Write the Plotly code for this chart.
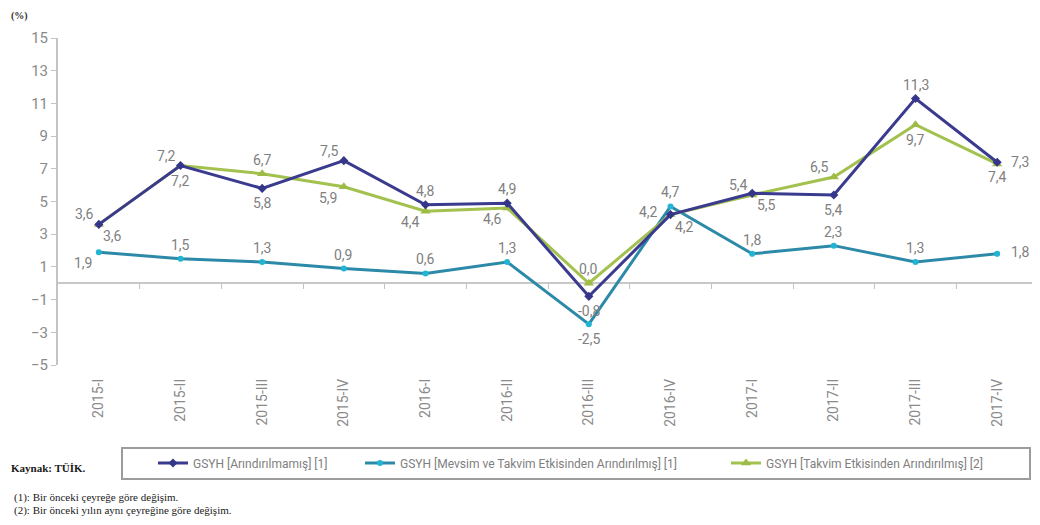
import plotly.graph_objects as go

categories = ["2015-I", "2015-II", "2015-III", "2015-IV", "2016-I", "2016-II",
              "2016-III", "2016-IV", "2017-I", "2017-II", "2017-III", "2017-IV"]
unadjusted = [3.6, 7.2, 5.8, 7.5, 4.8, 4.9, -0.8, 4.2, 5.5, 5.4, 11.3, 7.4]
seasonal_adj = [1.9, 1.5, 1.3, 0.9, 0.6, 1.3, -2.5, 4.7, 1.8, 2.3, 1.3, 1.8]
calendar_adj = [3.6, 7.2, 6.7, 5.9, 4.4, 4.6, 0.0, 4.2, 5.4, 6.5, 9.7, 7.3]

names = ["GSYH [Arındırılmamış] [1]",
         "GSYH [Mevsim ve Takvim Etkisinden Arındırılmış] [1]",
         "GSYH [Takvim Etkisinden Arındırılmış] [2]"]
yticks = [-5, -3, -1, 1, 3, 5, 7, 9, 11, 13, 15]

# label placement codes (style only)
pos_unadj = ["br", "b", "b", "tl", "t", "t", "b", "br", "br", "b", "t", "b"]
pos_seas = ["bl", "t", "t", "t", "t", "t", "b", "t", "t", "t", "t", "r"]
pos_cal = ["tl", "tl", "t", "bl", "bl", "bl", "t", "l", "tl", "tl", "b", "r"]
SHIFT = {"t": (0, 14), "b": (0, -15), "tl": (-14, 10), "bl": (-15, -11),
         "br": (14, -12), "l": (-22, 3), "r": (23, 2)}

OFF = 8  # page body margin
W, H = 1040 - OFF, 525 - OFF
PL, PR, PT, PB = 58 - OFF, 1038 - OFF, 38 - OFF, 365 - OFF


def px(x):
    return (x - OFF - PL) / (PR - PL)


def py(y):
    return (PB - (y - OFF)) / (PB - PT)


def fmt(v):
    return f"{v:.1f}".replace(".", ",")


label_font = dict(family="Roboto", size=14, color="#7f7f7f")

fig = go.Figure()
fig.add_trace(go.Scatter(
    x=categories, y=seasonal_adj, name=names[1], mode="lines+markers",
    line=dict(color="#2c8aa8", width=3), marker=dict(symbol="circle", size=6, color="#22b5d3"),
    legend="legend2"))
fig.add_trace(go.Scatter(
    x=categories, y=calendar_adj, name=names[2], mode="lines+markers",
    line=dict(color="#a3c14f", width=3), marker=dict(symbol="triangle-up", size=9, color="#9dbb45"),
    legend="legend3"))
fig.add_trace(go.Scatter(
    x=categories, y=unadjusted, name=names[0], mode="lines+markers",
    line=dict(color="#3a3a8e", width=3), marker=dict(symbol="diamond", size=7, color="#35358a"),
    legend="legend"))
# helper axis for the boundary tick marks on the zero line
fig.add_trace(go.Scatter(x=[], y=[], xaxis="x2", showlegend=False, hoverinfo="skip"))

annotations = []
for vals, codes in ((unadjusted, pos_unadj), (seasonal_adj, pos_seas), (calendar_adj, pos_cal)):
    for c, v, code in zip(categories, vals, codes):
        dx, dy = SHIFT[code]
        annotations.append(dict(x=c, y=v, xref="x", yref="y", text=fmt(v), showarrow=False,
                                xshift=dx, yshift=dy, font=label_font,
                                xanchor="center", yanchor="middle"))

annotations += [
    dict(text="<b>(%)</b>", xref="paper", yref="paper", x=px(9), y=py(16),
         xanchor="left", yanchor="middle", showarrow=False,
         font=dict(family="Liberation Serif", size=10, color="#333333")),
    dict(text="<b>Kaynak: TÜİK.</b>", xref="paper", yref="paper", x=px(9), y=py(468),
         xanchor="left", yanchor="middle", showarrow=False,
         font=dict(family="Liberation Serif", size=11, color="#1a1a1a")),
    dict(text="(1): Bir önceki çeyreğe göre değişim.", xref="paper", yref="paper",
         x=px(12), y=py(497), xanchor="left", yanchor="middle", showarrow=False,
         font=dict(family="Liberation Serif", size=11, color="#1a1a1a")),
    dict(text="(2): Bir önceki yılın aynı çeyreğine göre değişim.", xref="paper", yref="paper",
         x=px(12), y=py(510), xanchor="left", yanchor="middle", showarrow=False,
         font=dict(family="Liberation Serif", size=11, color="#1a1a1a")),
]

leg_common = dict(orientation="h", xanchor="left", yanchor="middle", bgcolor="rgba(0,0,0,0)",
                  borderwidth=0, itemwidth=30,
                  font=dict(family="Roboto", size=12, color="#808080"))

fig.update_layout(
    width=W, height=H, autosize=False,
    margin=dict(l=PL, r=W - PR, t=PT, b=H - PB, pad=0),
    paper_bgcolor="white", plot_bgcolor="white",
    showlegend=True,
    legend=dict(x=px(153), y=py(463), **leg_common),
    legend2=dict(x=px(360), y=py(463), **leg_common),
    legend3=dict(x=px(726), y=py(463), **leg_common),
    xaxis=dict(type="category", categoryorder="array", categoryarray=categories,
               range=[-0.5, 11.5], showline=False, showgrid=False, zeroline=False,
               ticks="", tickangle=-90, ticklabelstandoff=10,
               tickfont=dict(family="Roboto", size=14, color="#8a8a8a")),
    xaxis2=dict(overlaying="x", anchor="free", position=0.25, range=[-0.5, 11.5],
                tickvals=[i + 0.5 for i in range(11)], ticks="outside", ticklen=5,
                tickcolor="#c4c4c4", tickwidth=1, showticklabels=False, showline=False,
                showgrid=False, zeroline=False),
    yaxis=dict(range=[-5, 15], tickvals=yticks, showgrid=False, showline=True,
               linecolor="#c4c4c4", linewidth=2, ticks="outside", ticklen=5,
               tickcolor="#c4c4c4", zeroline=True, zerolinecolor="#c8c8c8", zerolinewidth=2,
               tickfont=dict(family="Roboto", size=15, color="#8a8a8a")),
    shapes=[dict(type="rect", xref="paper", yref="paper",
                 x0=px(122), x1=px(1030), y0=py(479), y1=py(448),
                 line=dict(color="#9c9c9c", width=2), fillcolor="rgba(0,0,0,0)")],
    annotations=annotations,
)

fig.write_html("out.html")
